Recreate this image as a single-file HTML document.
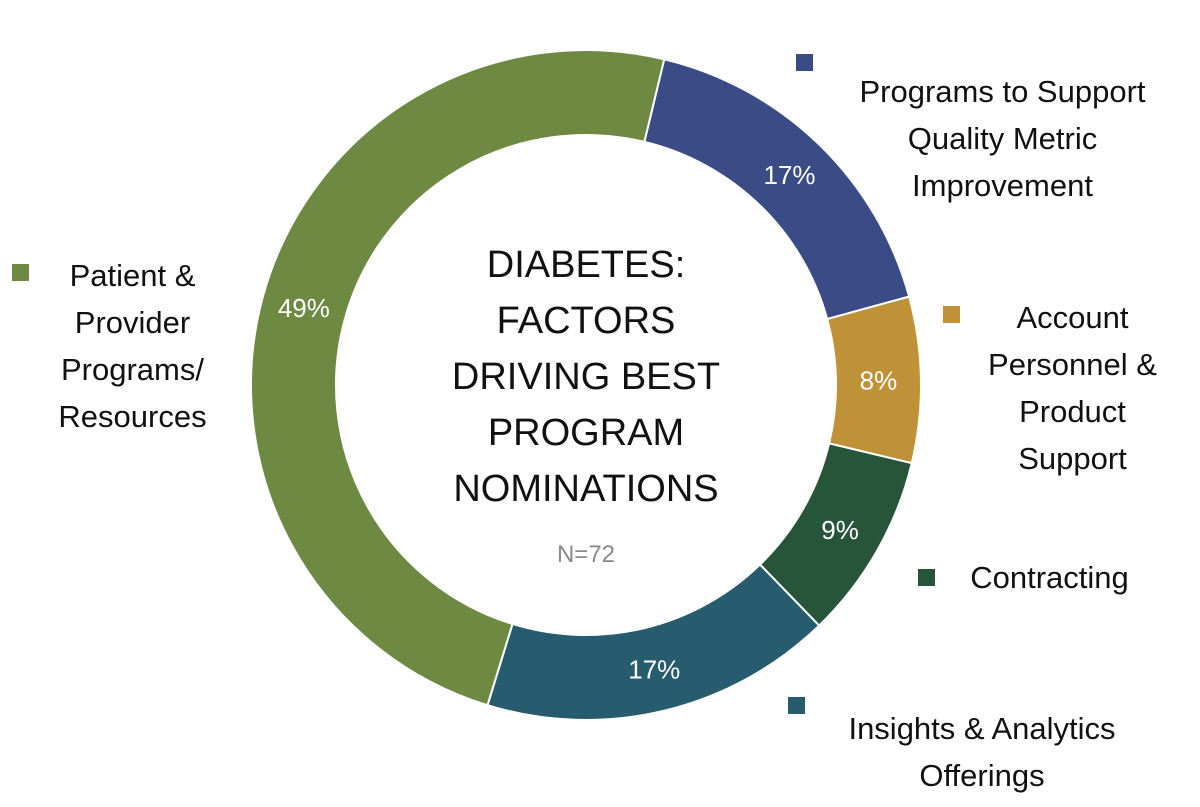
<!DOCTYPE html>
<html><head><meta charset="utf-8"><style>
body{margin:0;background:#fff;width:1200px;height:807px;overflow:hidden;font-family:"Liberation Sans",sans-serif}
.lg{position:absolute;font-size:31px;color:#111;text-align:center;line-height:47px}
.sq{position:absolute;width:17px;height:17px}
</style></head><body>
<svg id="chart" width="1200" height="807" style="position:absolute;left:0;top:0">
<g id="slices"></g>
<text x="586" y="277" text-anchor="middle" font-size="38" fill="#111">
<tspan x="586" dy="0">DIABETES:</tspan><tspan x="586" dy="56">FACTORS</tspan><tspan x="586" dy="56">DRIVING BEST</tspan><tspan x="586" dy="56">PROGRAM</tspan><tspan x="586" dy="56">NOMINATIONS</tspan></text>
<text x="586" y="562" text-anchor="middle" font-size="24" fill="#8a8a8a">N=72</text>
</svg>
<div class="sq" style="left:796px;top:54px;background:#3a4b86"></div>
<div class="lg" style="left:830px;top:68px;width:345px">Programs to Support<br>Quality Metric<br>Improvement</div>
<div class="sq" style="left:943px;top:306px;background:#c09237"></div>
<div class="lg" style="left:970px;top:294px;width:205px">Account<br>Personnel &amp;<br>Product<br>Support</div>
<div class="sq" style="left:918px;top:569px;background:#27553a"></div>
<div class="lg" style="left:952px;top:554px;width:195px">Contracting</div>
<div class="sq" style="left:788px;top:697px;background:#275c6e"></div>
<div class="lg" style="left:822px;top:705px;width:320px">Insights &amp; Analytics<br>Offerings</div>
<div class="sq" style="left:12px;top:264px;background:#6e8a42"></div>
<div class="lg" style="left:40px;top:252px;width:185px">Patient &amp;<br>Provider<br>Programs/<br>Resources</div>
<script>
const categories=["Programs to Support Quality Metric Improvement","Account Personnel & Product Support","Contracting","Insights & Analytics Offerings","Patient & Provider Programs/Resources"];
const values=[17,8,9,17,49];
const labels=["17%","8%","9%","17%","49%"];
const colors=["#3a4b86","#c09237","#27553a","#275c6e","#6e8a42"];
const cx=586,cy=385,R=335,r=250,start=13.5;
const g=document.getElementById('slices');
const total=values.reduce((a,b)=>a+b,0);
function pt(a,rad){const t=(a-90)*Math.PI/180;return [cx+rad*Math.cos(t),cy+rad*Math.sin(t)];}
let a=start;
values.forEach((v,i)=>{
 const sw=v/total*360,b=a+sw,lg=sw>180?1:0;
 const p1=pt(a,R),p2=pt(b,R),p3=pt(b,r),p4=pt(a,r);
 const p=document.createElementNS('http://www.w3.org/2000/svg','path');
 p.setAttribute('d',`M${p1}A${R},${R} 0 ${lg} 1 ${p2}L${p3}A${r},${r} 0 ${lg} 0 ${p4}Z`);
 p.setAttribute('fill',colors[i]);p.setAttribute('stroke','#fff');p.setAttribute('stroke-width','2');
 
 
 g.appendChild(p);
 const m=pt(a+sw/2,(R+r)/2);
 const t=document.createElementNS('http://www.w3.org/2000/svg','text');
 t.setAttribute('x',m[0]);t.setAttribute('y',m[1]+9);t.setAttribute('text-anchor','middle');
 t.setAttribute('font-size','26');t.setAttribute('fill','#fff');t.textContent=labels[i];
 
 
 g.appendChild(t);
 a=b;
});
</script>
</body></html>
